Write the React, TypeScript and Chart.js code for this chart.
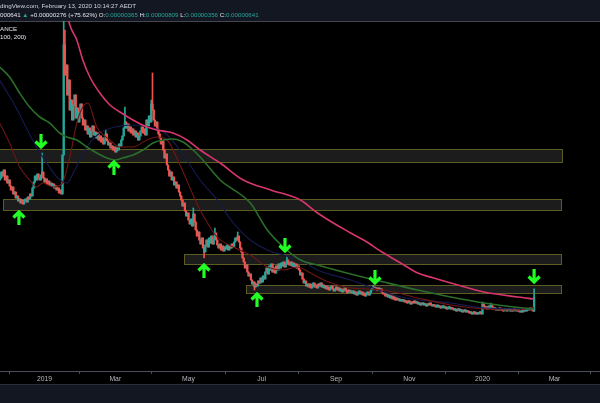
import React, { useEffect, useRef } from "react";
import { Chart, registerables } from "chart.js";

Chart.register(...registerables);

// Days counted from 2019-01-01; prices in satoshi (1e-8 BTC)
const FIRST_DAY = -37;
const FIRST_OPEN = 2985;
const closes: number[] = [
  // -37 .. -1
  3025, 3145, 3065, 3185, 2985, 3065, 2925, 2985, 2865, 2785, 2845, 2705, 2745, 2625, 2665, 2565, 2605, 2525, 2585, 2505, 2565, 2605, 2545, 2645, 2605, 2705, 2665, 2825, 2945, 3065, 2985, 3105, 3025, 2985, 3085, 3145, 3025,
  // 0 .. 14
  2945, 3005, 2905, 2965, 2885, 2925, 2865, 2905, 2825, 2865, 2785, 2825, 2725, 2785, 2705,
  // 15 .. 31
  3485, 5685, 5085, 5285, 4685, 4985, 4385, 4585, 4185, 4485, 4685, 4225, 4425, 4145, 4345, 4505, 4225,
  // 32 .. 46
  4085, 4185, 3985, 4065, 3905, 4025, 3845, 3965, 4065, 3885, 3945, 3825, 3925, 3785, 3865,
  // 47 .. 59
  3745, 3825, 3705, 3785, 3905, 3765, 3685, 3725, 3625, 3665, 3585, 3645, 3545,
  // 60 .. 67
  3625, 3585, 3705, 3665, 3785, 3865, 4025, 4145,
  // 68 .. 75
  4025, 4105, 3965, 4045, 3925, 4005, 3885, 3965,
  // 76 .. 84
  3845, 3925, 3785, 3865, 3965, 4045, 3925, 4005, 3885,
  // 85 .. 95
  4185, 4065, 4265, 4145, 4505, 4385, 4185, 4065, 4145, 3985, 3905,
  // 96 .. 104
  3825, 3705, 3765, 3585, 3425, 3505, 3285, 3185, 3065,
  // 105 .. 113
  3145, 2985, 3045, 2885, 2945, 2825, 2885, 2745, 2665,
  // 114 .. 124
  2585, 2465, 2525, 2365, 2265, 2325, 2185, 2105, 2205, 2065, 2305,
  // 125 .. 134
  2145, 1985, 1865, 1945, 1785, 1705, 1825, 1625, 1545, 1685,
  // 135 .. 144
  1785, 1645, 1825, 1725, 1865, 1705, 1805, 1925, 1785, 1685,
  // 145 .. 159
  1625, 1705, 1585, 1665, 1565, 1645, 1605, 1685, 1585, 1665, 1625, 1705, 1645, 1745, 1825,
  // 160 .. 162
  1785, 1865, 1745,
  // 163 .. 173
  1625, 1545, 1425, 1345, 1225, 1285, 1145, 1065, 1105, 985, 905,
  // 174 .. 178
  945, 845, 905, 865, 965,
  // 179 .. 184
  925, 1025, 945, 1065, 1005, 1145,
  // 185 .. 194
  1225, 1105, 1265, 1185, 1305, 1145, 1225, 1125, 1265, 1185,
  // 195 .. 203
  1305, 1225, 1325, 1265, 1345, 1245, 1305, 1385, 1325,
  // 204 .. 211
  1285, 1345, 1265, 1325, 1245, 1305, 1225, 1265,
  // 212 .. 219
  1185, 1085, 1125, 1005, 925, 965, 865, 905,
  // 220 .. 233
  845, 905, 825, 885, 925, 845, 885, 825, 905, 865, 925, 845, 885, 825,
  // 234 .. 255
  865, 805, 845, 785, 825, 865, 805, 765, 805, 845, 785, 825, 765, 805, 745, 785, 825, 765, 725, 785, 745, 765,
  // 256 .. 272
  725, 765, 705, 745, 685, 725, 765, 705, 745, 685, 725, 665, 705, 745, 685, 725, 785,
  // 273 .. 282
  805, 845, 805, 825, 785, 825, 785, 805, 745, 705,
  // 283 .. 297
  725, 665, 705, 645, 685, 625, 665, 605, 645, 585, 625, 585, 605, 565, 585,
  // 298 .. 311
  565, 585, 545, 565, 525, 565, 545, 505, 545, 525, 565, 525, 545, 505,
  // 312 .. 324
  525, 485, 505, 525, 485, 505, 465, 505, 485, 525, 485, 465, 485,
  // 325 .. 339
  465, 445, 485, 445, 465, 425, 445, 465, 425, 445, 405, 425, 445, 405, 425,
  // 340 .. 353
  405, 385, 405, 365, 385, 405, 365, 385, 345, 365, 385, 345, 365, 345,
  // 354 .. 364
  325, 345, 305, 325, 345, 305, 325, 305, 325, 345, 305,
  // 365
  505,
  // 366 .. 374
  465, 425, 445, 405, 465, 425, 485, 445, 405,
  // 375 .. 395
  425, 385, 405, 385, 425, 385, 405, 365, 385, 405, 365, 385, 405, 365, 385, 365, 405, 385, 365, 385, 365,
  // 396 .. 403
  345, 365, 345, 365, 385, 365, 405, 385,
  // 404 .. 407
  405, 425, 385, 365,
  // 408 (Feb 13, 2020)
  641,
];

const highDays = [-2, 16, 17, 51, 67, 89, 90, 124, 142, 161, 202, 274, 365, 372, 408];
const highVals = [3525, 6985, 5985, 3985, 4445, 4585, 5125, 2425, 2025, 1945, 1445, 885, 545, 525, 809];
const lowDays = [133, 175, 408];
const lowVals = [1425, 785, 356];

const ma200Days = [18.6, 21.1, 26.9, 31.9, 37.8, 46.1, 54.5, 62.8, 73.7, 85.4, 93.8, 107.1, 118.8, 129.7, 146.4, 165.6, 188.5, 213.3, 227.5, 255.1, 265.9, 282.6, 296.8, 311.0, 324.4, 338.6, 366.2, 394.6, 408];
const ma200Vals = [6345, 6085, 5785, 5385, 5045, 4725, 4485, 4345, 4185, 4045, 3985, 3925, 3785, 3585, 3325, 2985, 2785, 2585, 2325, 1925, 1785, 1525, 1325, 1125, 1025, 925, 745, 645, 605];

const ma100Days = [-37.4, -29.1, -20.7, -12.4, -4.0, 4.3, 12.7, 18.6, 26.9, 35.3, 43.6, 52.0, 58.7, 65.3, 73.7, 82.1, 90.4, 98.8, 107.1, 115.5, 123.8, 129.7, 146.4, 171.5, 185.7, 199.1, 213.3, 227.5, 255.1, 282.6, 311.0, 338.6, 366.2, 399.6, 408];
const ma100Vals = [5245, 5045, 4725, 4445, 4245, 4125, 3925, 3845, 3785, 3645, 3525, 3425, 3385, 3425, 3485, 3585, 3725, 3785, 3805, 3745, 3585, 3445, 2985, 2525, 1985, 1645, 1385, 1285, 1105, 945, 785, 645, 525, 425, 405];

const ma20Days = [-37.4, -29.1, -20.7, -12.4, -6.5, -1.5, 6.9, 14.4, 21.1, 26.9, 31.9, 36.1, 43.6, 54.5, 62.8, 73.7, 85.4, 93.8, 102.1, 112.9, 123.8, 129.7, 143.9, 157.3, 171.5, 185.7, 199.1, 210.8, 221.7, 232.6, 244.2, 255.1, 282.6, 311.0, 338.6, 366.2, 394.6, 408];
const ma20Vals = [4125, 3725, 3245, 2985, 2845, 2925, 2845, 2905, 3445, 4125, 4445, 4525, 4045, 3785, 3645, 3645, 3785, 3845, 3785, 3285, 2685, 2385, 1845, 1645, 1485, 1245, 1185, 1245, 1125, 985, 885, 825, 785, 625, 485, 405, 385, 445];

const ma50Days = [-37.4, -24.9, -9.9, 1.8, 12.7, 18.6, 25.2, 33.6, 46.1, 58.7, 73.7, 87.9, 100.4, 112.9, 129.7, 143.9, 157.3, 171.5, 185.7, 213.3, 227.5, 255.1, 296.8, 338.6, 366.2, 408];
const ma50Vals = [4985, 4485, 3785, 3325, 2985, 2925, 3185, 3585, 3925, 4045, 4085, 4045, 3925, 3585, 2985, 2585, 2125, 1785, 1585, 1385, 1185, 985, 645, 525, 425, 405];

// Support / resistance zones
const zoneStart = [-40, -35, 116.3, 167.5];
const zoneEnd = [431.2, 430.8, 430.8, 430.8];
const zoneHigh = [3605, 2605, 1505, 885];
const zoneLow = [3345, 2385, 1305, 725];

// Green arrow markers (centre)
const arrowDays = [-2.9, -21.3, 57.9, 132.9, 200.4, 177.1, 275.4, 408];
const arrowVals = [3765, 2225, 3225, 1165, 1685, 585, 1045, 1065];
const arrowDirs = ["down", "up", "up", "up", "down", "up", "down", "down"];

const tickDays = [0, 59, 120, 181, 243, 304, 365, 425];
const tickLabels = ["2019", "Mar", "May", "Jul", "Sep", "Nov", "2020", "Mar"];

const X_MIN = -44.5 / 1.2;
const X_MAX = (600 - 44.5) / 1.2;
const Y_MIN = -835;
const Y_MAX = 6165;

const UP = "#26a69a";
const DOWN = "#ef5350";

const pts = (ds: number[], vs: number[]) => ds.map((d, i) => ({ x: d, y: vs[i] }));

export default function App() {
  const ref = useRef<HTMLCanvasElement | null>(null);
  useEffect(() => {
    document.body.style.margin = "0";
    const canvas = ref.current!;
    const candles = closes.map((c, i) => {
      const o = i === 0 ? FIRST_OPEN : closes[i - 1];
      const day = FIRST_DAY + i;
      let h = Math.max(o, c);
      let l = Math.min(o, c);
      const hi = highDays.indexOf(day);
      if (hi >= 0) h = highVals[hi];
      const li = lowDays.indexOf(day);
      if (li >= 0) l = lowVals[li];
      return { day, o, h, l, c, col: c >= o ? UP : DOWN };
    });

    const bgPlugin = {
      id: "bgPlugin",
      beforeDraw(chart: any) {
        const { ctx, width, height } = chart;
        ctx.save();
        ctx.fillStyle = "#000000";
        ctx.fillRect(0, 0, width, height);
        ctx.fillStyle = "#131722";
        ctx.fillRect(0, 0, width, 21);
        ctx.fillRect(0, 385, width, height - 385);
        ctx.fillStyle = "#434651";
        ctx.fillRect(0, 21, width, 1);
        ctx.fillStyle = "#2a2e39";
        ctx.fillRect(0, 384, width, 1);
        ctx.restore();
      },
      beforeDatasetsDraw(chart: any) {
        const { ctx, chartArea } = chart;
        const xs = chart.scales.x;
        const ys = chart.scales.y;
        ctx.save();
        ctx.beginPath();
        ctx.rect(chartArea.left, chartArea.top, chartArea.right - chartArea.left, chartArea.bottom - chartArea.top);
        ctx.clip();
        zoneStart.forEach((s, i) => {
          const x1 = Math.round(xs.getPixelForValue(s)) + 0.5;
          const x2 = Math.round(xs.getPixelForValue(zoneEnd[i])) + 0.5;
          const y1 = Math.round(ys.getPixelForValue(zoneHigh[i])) + 0.5;
          const y2 = Math.round(ys.getPixelForValue(zoneLow[i])) + 0.5;
          ctx.fillStyle = "rgba(255,255,255,0.11)";
          ctx.fillRect(x1, y1, x2 - x1, y2 - y1);
          ctx.strokeStyle = "#5c5c22";
          ctx.lineWidth = 1;
          ctx.strokeRect(x1, y1, x2 - x1, y2 - y1);
        });
        ctx.restore();
      },
      afterDraw(chart: any) {
        const { ctx } = chart;
        const xs = chart.scales.x;
        const ys = chart.scales.y;
        ctx.save();
        // arrows
        ctx.strokeStyle = "#22ff22";
        ctx.lineWidth = 3.2;
        ctx.lineJoin = "miter";
        ctx.lineCap = "butt";
        arrowDays.forEach((d, i) => {
          const cx = xs.getPixelForValue(d);
          const cy = ys.getPixelForValue(arrowVals[i]);
          const s = arrowDirs[i] === "down" ? 1 : -1;
          ctx.beginPath();
          ctx.moveTo(cx, cy - 7 * s);
          ctx.lineTo(cx, cy + 5 * s);
          ctx.moveTo(cx - 5.5, cy + 0.5 * s);
          ctx.lineTo(cx, cy + 6 * s);
          ctx.lineTo(cx + 5.5, cy + 0.5 * s);
          ctx.stroke();
        });
        // header text
        ctx.textBaseline = "middle";
        ctx.font = "6.2px 'Liberation Sans', Arial, sans-serif";
        ctx.fillStyle = "#d1d4dc";
        ctx.fillText("dingView.com, February 13, 2020 10:14:27 AEDT", 0, 6);
        const runs: [string, string][] = [
          ["000641 ", "#e0e3eb"],
          ["\u25B2", UP],
          [" +0.00000276 (+75.62%) ", "#e0e3eb"],
          ["O:", "#e0e3eb"],
          ["0.00000365", UP],
          [" H:", "#e0e3eb"],
          ["0.00000809", UP],
          [" L:", "#e0e3eb"],
          ["0.00000356", UP],
          [" C:", "#e0e3eb"],
          ["0.00000641", UP],
        ];
        let x = 0;
        runs.forEach(([t, c]) => {
          ctx.fillStyle = c;
          ctx.fillText(t, x, 15);
          x += ctx.measureText(t).width;
        });
        ctx.fillStyle = "#e0e3eb";
        ctx.fillText("ANCE", 0, 29);
        ctx.fillText("100, 200)", 0, 37.5);
        ctx.restore();
      },
    };

    const lineDs = (label: string, ds: number[], vs: number[], color: string, w: number) => ({
      type: "line" as const,
      label,
      data: pts(ds, vs),
      borderColor: color,
      borderWidth: w,
      pointRadius: 0,
      cubicInterpolationMode: "monotone" as const,
      fill: false,
      clip: 0,
      order: 0,
    });

    const chart = new Chart(canvas, {
      type: "bar",
      data: {
        datasets: [
          lineDs("MA 200", ma200Days, ma200Vals, "#d8366c", 1.6),
          lineDs("MA 100", ma100Days, ma100Vals, "#2a6e2a", 1.6),
          lineDs("MA 20", ma20Days, ma20Vals, "#701616", 1.1),
          lineDs("MA 50", ma50Days, ma50Vals, "#161b52", 1.1),
          {
            type: "bar",
            label: "wick",
            data: candles.map((k) => ({ x: k.day, y: [k.l, k.h] })) as any,
            backgroundColor: candles.map((k) => k.col),
            barThickness: 1,
            grouped: false,
            minBarLength: 1,
            order: 2,
          } as any,
          {
            type: "bar",
            label: "body",
            data: candles.map((k) => ({ x: k.day, y: [k.o, k.c] })) as any,
            backgroundColor: candles.map((k) => k.col),
            barThickness: 1.6,
            grouped: false,
            minBarLength: 1.5,
            order: 1,
          } as any,
        ],
      },
      options: {
        responsive: false,
        animation: false,
        devicePixelRatio: 1,
        layout: { padding: { top: 21, left: 0, right: 0, bottom: 0 } },
        plugins: { legend: { display: false }, tooltip: { enabled: false } },
        scales: {
          x: {
            type: "linear",
            min: X_MIN,
            max: X_MAX,
            offset: false,
            afterBuildTicks: (s: any) => {
              s.ticks = tickDays.map((v) => ({ value: v }));
            },
            afterFit: (s: any) => {
              s.height = 32;
            },
            ticks: {
              autoSkip: false,
              maxRotation: 0,
              color: "#b2b5be",
              font: { family: "'Liberation Sans', Arial, sans-serif", size: 6.8 },
              padding: 1,
              callback: (_v: any, i: number) => tickLabels[i],
            },
            grid: { drawOnChartArea: false, drawTicks: true, tickLength: 3, color: "#4a4e59" },
            border: { display: true, color: "#4a4e59" },
          },
          y: { display: false, min: Y_MIN, max: Y_MAX },
        },
      } as any,
      plugins: [bgPlugin],
    });
    return () => chart.destroy();
  }, []);

  return (
    <div style={{ width: 600, height: 403 }}>
      <canvas ref={ref} width={600} height={403} style={{ display: "block" }} />
    </div>
  );
}
